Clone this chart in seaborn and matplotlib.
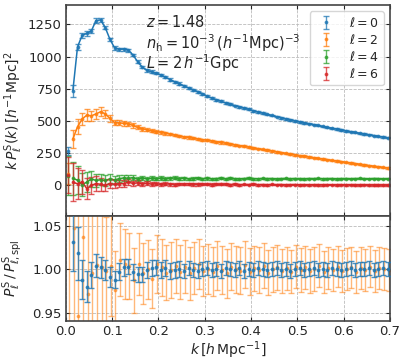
import numpy as np
import matplotlib
matplotlib.use("Agg")
import matplotlib.pyplot as plt
import seaborn as sns

# k bins [h/Mpc]
k = [0.005, 0.015, 0.025, 0.035, 0.045, 0.055, 0.065, 0.075, 0.085, 0.095,
     0.105, 0.115, 0.125, 0.135, 0.145, 0.155, 0.165, 0.175, 0.185, 0.195,
     0.205, 0.215, 0.225, 0.235, 0.245, 0.255, 0.265, 0.275, 0.285, 0.295,
     0.305, 0.315, 0.325, 0.335, 0.345, 0.355, 0.365, 0.375, 0.385, 0.395,
     0.405, 0.415, 0.425, 0.435, 0.445, 0.455, 0.465, 0.475, 0.485, 0.495,
     0.505, 0.515, 0.525, 0.535, 0.545, 0.555, 0.565, 0.575, 0.585, 0.595,
     0.605, 0.615, 0.625, 0.635, 0.645, 0.655, 0.665, 0.675, 0.685, 0.695]

# k P_l(k) multipoles
kP0 = [265, 735, 1075, 1165, 1180, 1200, 1280, 1285, 1225, 1135,
       1068, 1057, 1058, 1050, 1012, 960, 918, 893, 882, 872,
       858, 840, 822, 805, 790, 773, 757, 742, 728, 712,
       692, 678, 665, 653, 641, 630, 620, 610, 600, 590,
       580, 570, 561, 552, 543, 534, 525, 517, 509, 501,
       493, 486, 479, 472, 465, 458, 451, 444, 437, 430,
       423, 417, 411, 405, 399, 393, 387, 381, 375, 369]
kP2 = [90, 360, 455, 515, 545, 540, 555, 572, 555, 520,
       488, 485, 482, 478, 465, 450, 440, 432, 425, 418,
       412, 405, 398, 390, 383, 377, 372, 366, 360, 355,
       350, 345, 339, 333, 327, 321, 315, 309, 303, 297,
       291, 285, 279, 273, 267, 261, 255, 249, 243, 237,
       231, 226, 220, 215, 210, 204, 199, 194, 189, 184,
       179, 174, 169, 164, 159, 154, 149, 144, 140, 135]
kP4 = [75, 55, 40, 5, 25, 50, 38, 44, 38, 50,
       42, 52, 58, 55, 60, 48, 58, 50, 55, 52,
       56, 50, 54, 58, 52, 55, 50, 53, 57, 52,
       54, 50, 53, 55, 51, 54, 52, 50, 53, 55,
       52, 51, 54, 52, 53, 50, 52, 54, 51, 53,
       52, 50, 53, 52, 54, 51, 52, 53, 50, 52,
       53, 51, 52, 54, 52, 51, 53, 52, 51, 52]
kP6 = [80, 25, 12, 28, -25, 0, 14, 8, 0, 14,
       8, 14, 14, 25, 15, 20, 12, 15, 10, 13,
       8, 12, 10, 6, 11, 9, 12, 8, 7, 10,
       8, 6, 9, 7, 10, 6, 8, 5, 7, 6,
       8, 5, 6, 4, 7, 5, 6, 4, 5, 6,
       4, 5, 3, 5, 4, 3, 5, 4, 3, 4,
       3, 4, 2, 3, 4, 2, 3, 2, 3, 2]

err0 = [30, 45, 25, 22, 20, 18, 16, 15, 14, 13,
        13, 12, 12, 11, 11, 11, 10, 10, 10, 10,
        9, 9, 9, 9, 9, 8, 8, 8, 8, 8,
        8, 8, 7, 7, 7, 7, 7, 7, 7, 7,
        7, 6, 6, 6, 6, 6, 6, 6, 6, 6,
        6, 6, 6, 6, 5, 5, 5, 5, 5, 5,
        5, 5, 5, 5, 5, 5, 5, 5, 5, 5]
err2 = [80, 70, 60, 50, 45, 40, 38, 35, 30, 25,
        22, 20, 18, 17, 16, 15, 14, 13, 12, 12,
        11, 11, 10, 10, 10, 9, 9, 9, 9, 8,
        8, 8, 8, 8, 7, 7, 7, 7, 7, 7,
        7, 6, 6, 6, 6, 6, 6, 6, 6, 6,
        6, 6, 5, 5, 5, 5, 5, 5, 5, 5,
        5, 5, 5, 5, 5, 5, 5, 5, 5, 5]
err4 = [150, 130, 110, 90, 75, 60, 50, 45, 40, 35,
        30, 27, 25, 22, 20, 18, 17, 16, 15, 14,
        13, 12, 12, 11, 11, 10, 10, 10, 9, 9,
        9, 9, 8, 8, 8, 8, 8, 7, 7, 7,
        7, 7, 7, 7, 6, 6, 6, 6, 6, 6,
        6, 6, 6, 6, 6, 6, 5, 5, 5, 5,
        5, 5, 5, 5, 5, 5, 5, 5, 5, 5]
err6 = [140, 150, 120, 95, 80, 65, 55, 48, 40, 35,
        30, 27, 25, 22, 20, 18, 17, 16, 15, 14,
        13, 12, 12, 11, 11, 10, 10, 10, 9, 9,
        9, 9, 8, 8, 8, 8, 8, 7, 7, 7,
        7, 7, 7, 7, 6, 6, 6, 6, 6, 6,
        6, 6, 6, 6, 6, 6, 5, 5, 5, 5,
        5, 5, 5, 5, 5, 5, 5, 5, 5, 5]

# ratio to spline (lower panel); monopole starts at second bin
ratio0 = [1.031, 1.018, 0.988, 0.980, 0.993, 1.004, 1.002, 0.999, 0.991,
          0.988, 0.997, 1.002, 1.003, 0.997, 0.994, 0.994, 0.999, 1.001, 1.002,
          0.999, 1.001, 0.998, 0.999, 1.000, 0.998, 1.001, 0.999, 0.998, 1.000,
          1.001, 0.999, 1.000, 0.998, 1.001, 1.000, 0.999, 1.001, 0.998, 1.000,
          0.999, 1.001, 1.000, 0.999, 1.000, 1.001, 0.999, 1.000, 0.998, 1.000,
          1.001, 0.999, 1.000, 1.001, 0.999, 1.000, 0.999, 1.001, 1.000, 0.999,
          1.000, 1.001, 0.999, 1.000, 1.000, 1.001, 0.999, 1.000, 1.001, 1.000]
rerr0 = [0.033, 0.030, 0.022, 0.018, 0.015, 0.013, 0.012, 0.011, 0.011,
         0.010, 0.010, 0.010, 0.009, 0.009, 0.009, 0.009, 0.009, 0.009, 0.009,
         0.009, 0.009, 0.009, 0.009, 0.009, 0.008, 0.008, 0.008, 0.008, 0.008,
         0.008, 0.008, 0.008, 0.008, 0.008, 0.008, 0.008, 0.008, 0.008, 0.008,
         0.008, 0.008, 0.008, 0.008, 0.008, 0.008, 0.008, 0.008, 0.008, 0.008,
         0.008, 0.008, 0.008, 0.008, 0.008, 0.008, 0.008, 0.008, 0.008, 0.008,
         0.008, 0.008, 0.008, 0.008, 0.008, 0.008, 0.008, 0.008, 0.008, 0.008]
ratio2 = [1.100, 1.047, 0.946, 1.037, 0.971, 0.995, 1.005, 1.003, 0.998, 1.004,
          0.976, 1.011, 1.006, 1.004, 0.987, 1.006, 0.995, 1.000, 0.989, 1.006,
          1.002, 0.996, 0.999, 1.004, 0.997, 1.003, 0.995, 1.001, 1.006, 0.998,
          1.000, 0.997, 1.004, 0.999, 0.995, 1.003, 1.000, 0.998, 1.005, 0.997,
          1.001, 0.999, 1.004, 0.996, 1.000, 1.002, 0.998, 1.001, 0.997, 1.003,
          0.999, 1.002, 0.998, 1.000, 1.004, 0.997, 1.001, 0.999, 1.003, 0.998,
          1.000, 1.002, 0.997, 1.001, 0.999, 1.003, 0.998, 1.001, 1.000, 0.999]
rerr2 = [0.30, 0.25, 0.15, 0.12, 0.10, 0.085, 0.075, 0.068, 0.062, 0.058,
         0.045, 0.042, 0.040, 0.038, 0.037, 0.036, 0.035, 0.034, 0.034, 0.033,
         0.033, 0.032, 0.032, 0.031, 0.031, 0.030, 0.030, 0.030, 0.029, 0.029,
         0.029, 0.028, 0.028, 0.028, 0.028, 0.027, 0.027, 0.027, 0.027, 0.027,
         0.026, 0.026, 0.026, 0.026, 0.026, 0.026, 0.025, 0.025, 0.025, 0.025,
         0.025, 0.025, 0.025, 0.025, 0.025, 0.024, 0.024, 0.024, 0.024, 0.024,
         0.024, 0.024, 0.024, 0.024, 0.024, 0.024, 0.024, 0.024, 0.024, 0.024]

multipoles = [(kP0, err0, r"$\ell=0$"), (kP2, err2, r"$\ell=2$"),
              (kP4, err4, r"$\ell=4$"), (kP6, err6, r"$\ell=6$")]

sns.set_style("ticks")
plt.rcParams["font.family"] = ["DejaVu Sans"]
plt.rcParams["mathtext.fontset"] = "dejavusans"
colors = sns.color_palette("tab10")

fig, (ax1, ax2) = plt.subplots(2, 1, figsize=(4.07, 3.63), dpi=100, sharex=True,
                               gridspec_kw={"height_ratios": [2, 1], "hspace": 0})
fig.subplots_adjust(left=0.162, right=0.958, top=0.986, bottom=0.116)

k_arr = np.array(k)
for i, (vals, err, lab) in enumerate(multipoles):
    sns.lineplot(x=k_arr[1:], y=np.array(vals)[1:], ax=ax1, color=colors[i], lw=1.1)
    ax1.errorbar(k_arr, vals, yerr=err, fmt=".", color=colors[i], ms=3.5,
                 elinewidth=1, capsize=2, alpha=0.75, label=lab)

ax1.text(0.172, 1268, r"$z=1.48$", fontsize=10.5, va="center")
ax1.text(0.172, 1105, r"$n_{\rm h}=10^{-3}\,(h^{-1}{\rm Mpc})^{-3}$", fontsize=10.5, va="center")
ax1.text(0.172, 948, r"$L=2\,h^{-1}{\rm Gpc}$", fontsize=10.5, va="center")

leg = ax1.legend(loc="upper right", fontsize=9, frameon=True, handletextpad=1.0,
                 borderpad=0.35, labelspacing=0.25, handlelength=1.8)
leg.get_frame().set_edgecolor("#cccccc")

ax1.set_ylim(-235, 1400)
ax1.set_yticks([0, 250, 500, 750, 1000, 1250])
ax1.set_ylabel(r"$k\,P_\ell^{\rm S}(k)\,[h^{-1}{\rm Mpc}]^2$", fontsize=10, labelpad=2)

ax2.errorbar(k_arr[1:], ratio0, yerr=rerr0, fmt=".", color=colors[0], ms=3.5,
             elinewidth=1, capsize=2, alpha=0.8, zorder=3)
ax2.errorbar(k_arr + 0.002, ratio2, yerr=rerr2, fmt=".", color=colors[1], ms=3.5,
             elinewidth=1, capsize=2, alpha=0.55, zorder=2)
ax2.set_ylim(0.9405, 1.0615)
ax2.set_yticks([0.95, 1.00, 1.05])
ax2.set_ylabel(r"$P_\ell^{\rm S}\,/\,P_{\ell,{\rm spl}}^{\rm S}$", fontsize=10, labelpad=2)
ax2.set_xlim(0, 0.7)
ax2.set_xticks([0.0, 0.1, 0.2, 0.3, 0.4, 0.5, 0.6, 0.7])
ax2.set_xlabel(r"$k\,[h\,{\rm Mpc}^{-1}]$", fontsize=10, labelpad=1)

for ax in (ax1, ax2):
    ax.grid(True, ls="--", lw=0.6, color="#bbbbbb")
    ax.tick_params(direction="in", top=True, right=True, labelsize=9.5, length=3, pad=3)
    for sp in ax.spines.values():
        sp.set_color("#444444")
        sp.set_linewidth(1.2)
fig.align_ylabels([ax1, ax2])

fig.savefig("out.png", dpi=100)
